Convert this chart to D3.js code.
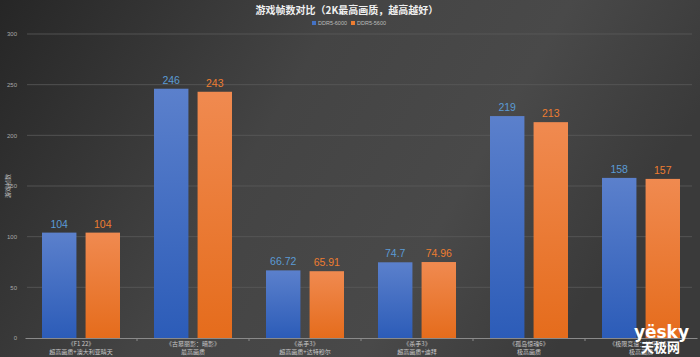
<!DOCTYPE html>
<html><head><meta charset="utf-8">
<script src="https://cdn.jsdelivr.net/npm/d3@7"></script>
<style>body{margin:0;background:#333}svg{display:block}</style>
</head><body>
<svg id="c" width="700" height="357"></svg>
<script>
const games = ["《F1 22》", "《古墓丽影：暗影》", "《杀手3》", "《杀手3》", "《孤岛惊魂6》", "《极限竞速：地平线5》"];
const settings = ["超高画质+澳大利亚晴天", "最高画质", "超高画质+达特穆尔", "超高画质+迪拜", "极高画质", "极高画质"];
const ddr6000 = [104, 246, 66.72, 74.7, 219, 158];
const ddr5600 = [104, 243, 65.91, 74.96, 213, 157];
const seriesNames = ["DDR5-6000", "DDR5-5600"];
const yTicks = [0, 50, 100, 150, 200, 250, 300];

(function(){
const svg = d3.select("#c");
const W = 700, H = 357;
const defs = svg.append("defs");
const bg = defs.append("linearGradient").attr("id","bg").attr("x1","0").attr("x2","1").attr("y1","0").attr("y2","0.3");
bg.append("stop").attr("offset","0").attr("stop-color","#262626");
bg.append("stop").attr("offset","0.45").attr("stop-color","#444444");
bg.append("stop").attr("offset","0.75").attr("stop-color","#494949");
bg.append("stop").attr("offset","1").attr("stop-color","#3a3a3a");
const gb = defs.append("linearGradient").attr("id","gb").attr("x1","0").attr("x2","0").attr("y1","0").attr("y2","1");
gb.append("stop").attr("offset","0").attr("stop-color","#5b80cc");
gb.append("stop").attr("offset","1").attr("stop-color","#2c5cb8");
const go = defs.append("linearGradient").attr("id","go").attr("x1","0").attr("x2","0").attr("y1","0").attr("y2","1");
go.append("stop").attr("offset","0").attr("stop-color","#f08a50");
go.append("stop").attr("offset","1").attr("stop-color","#e56c1c");

svg.append("rect").attr("width",W).attr("height",H).attr("fill","url(#bg)");

const mLeft = 25, mRight = 697, mTop = 34, mBottom = 338;
const x = d3.scaleBand().domain(d3.range(games.length)).range([mLeft, mRight]).paddingInner(0).paddingOuter(0);
const y = d3.scaleLinear().domain([0, 300]).range([mBottom, mTop]);
const xs = d3.scaleBand().domain([0,1]).range([17, x.bandwidth()-17]).paddingInner(0.21);

// grid
svg.append("g").selectAll("line").data(yTicks.filter(d=>d>0)).join("line")
  .attr("x1", mLeft+2).attr("x2", 692).attr("y1", d=>y(d)).attr("y2", d=>y(d))
  .attr("stroke","#5a5a5a").attr("stroke-width",0.8);

// y axis labels
const ya = svg.append("g").attr("transform",`translate(${mLeft},0)`)
  .call(d3.axisLeft(y).tickValues(yTicks).tickSize(0).tickPadding(8));
ya.select(".domain").remove();
ya.selectAll("text").attr("fill","#a8a8a8").style("font-family","Liberation Sans, Arial, sans-serif").style("font-size","6px");

svg.append("text").attr("transform",`translate(10,186) rotate(-90)`).attr("text-anchor","middle")
  .attr("fill","#bdbdbd").style("font-family","Noto Sans CJK SC").style("font-size","6px").text("游戏帧数");

// bars
const series = [ddr6000, ddr5600];
const fills = ["url(#gb)", "url(#go)"];
const labelCol = ["#5b9bd5", "#ed7d31"];
series.forEach((vals, si) => {
  const g = svg.append("g");
  g.selectAll("rect").data(vals).join("rect")
    .attr("x", (d,i)=>x(i)+xs(si)).attr("width", xs.bandwidth())
    .attr("y", d=>y(d)).attr("height", d=>y(0)-y(d)).attr("fill", fills[si]);
  g.selectAll("text").data(vals).join("text")
    .attr("x", (d,i)=>x(i)+xs(si)+xs.bandwidth()/2).attr("y", d=>y(d)-5)
    .attr("text-anchor","middle").attr("fill", labelCol[si])
    .style("font-family","Liberation Sans, Arial, sans-serif").style("font-size","10.5px").text(d=>d);
});

// x axis
const xa = svg.append("g").attr("transform",`translate(0,${mBottom})`)
  .call(d3.axisBottom(x).tickSize(0).tickFormat(""));
xa.select(".domain").attr("stroke","#8a8a8a").attr("stroke-width",1);
svg.append("g").selectAll("line").data(d3.range(1, games.length)).join("line")
  .attr("x1", d=>x(d)).attr("x2", d=>x(d)).attr("y1", mBottom).attr("y2", mBottom+3)
  .attr("stroke","#8a8a8a");
const cl = svg.append("g").selectAll("text").data(games).join("text")
  .attr("x",(d,i)=>x(i)+x.bandwidth()/2).attr("text-anchor","middle")
  .attr("fill","#c8c8c8").style("font-family","Noto Sans CJK SC").style("font-size","6px");
cl.append("tspan").attr("y", 346).attr("x",(d,i)=>x(i)+x.bandwidth()/2).text(d=>d);
cl.append("tspan").attr("y", 354).attr("x",(d,i)=>x(i)+x.bandwidth()/2).text((d,i)=>settings[i]);

// title
svg.append("text").attr("x",347).attr("y",14).attr("text-anchor","middle").attr("fill","#f0f0f0")
  .style("font-family","Noto Sans CJK SC").style("font-size","10px").style("font-weight","bold")
  .text("游戏帧数对比（2K最高画质，越高越好）");

// legend
const lg = svg.append("g").attr("transform","translate(312,25)");
seriesNames.forEach((n,i)=>{
  const gx = i*39;
  lg.append("rect").attr("x",gx).attr("y",-4).attr("width",4).attr("height",4).attr("fill",["#4472c4","#ed7d31"][i]);
  lg.append("text").attr("x",gx+6).attr("y",0).attr("fill","#bcbcbc")
    .style("font-family","Liberation Sans, Arial, sans-serif").style("font-size","5.5px").text(n);
});

// watermark
svg.append("text").attr("x",689).attr("y",338).attr("text-anchor","end").attr("fill","#ffffff")
  .style("font-family","DejaVu Sans, sans-serif").style("font-weight","bold").style("font-size","17px").text("yësky");
svg.append("text").attr("x",680).attr("y",352).attr("text-anchor","end").attr("fill","#ffffff")
  .style("font-family","Noto Sans CJK SC").style("font-weight","bold").style("font-size","13px").text("天极网");
})();
</script>
</body></html>
